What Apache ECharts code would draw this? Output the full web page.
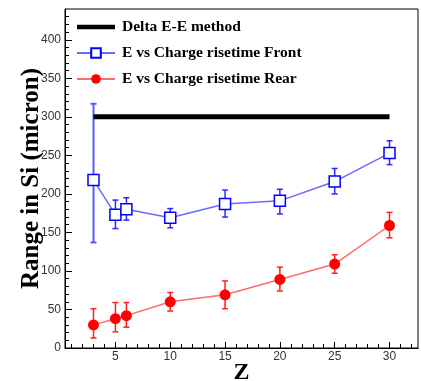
<!DOCTYPE html>
<html>
<head>
<meta charset="utf-8">
<script src="https://cdn.jsdelivr.net/npm/echarts@6/dist/echarts.min.js"></script>
<style>html,body{margin:0;padding:0;background:#fff}#c{width:421px;height:381px}</style>
</head>
<body>
<div id="c"></div>
<script>
// Data
var zValues = [3, 5, 6, 10, 15, 20, 25, 30];
var frontRange = [218, 173, 180, 169, 187, 191, 216, 253];
var frontLow = [137, 155, 166, 156, 170, 174, 200, 238];
var frontHigh = [317, 192, 195, 181, 205, 206, 233, 269];
var rearRange = [30, 38, 42, 60, 69, 89, 109, 159];
var rearLow = [13, 21, 27, 48, 51, 74, 97, 143];
var rearHigh = [51, 59, 59, 72, 87, 105, 121, 176];
var deltaZ = [3, 30];
var deltaRange = [300, 300];
var xMajorTicks = [5, 10, 15, 20, 25, 30];
var xMinorTicks = [1, 2, 3, 4, 6, 7, 8, 9, 11, 12, 13, 14, 16, 17, 18, 19, 21, 22, 23, 24, 26, 27, 28, 29, 31, 32];
var yMajorTicks = [0, 50, 100, 150, 200, 250, 300, 350, 400];
var yMinorTicks = [10, 20, 30, 40, 60, 70, 80, 90, 110, 120, 130, 140, 160, 170, 180, 190, 210, 220, 230, 240, 260, 270, 280, 290, 310, 320, 330, 340, 360, 370, 380, 390, 410, 420, 430];

var X_MIN = 0.4, X_MAX = 32.6, Y_MIN = 0, Y_MAX = 440;

function pairs(xs, ys) { return xs.map(function (x, i) { return [x, ys[i]]; }); }
function errData(xs, lo, hi) { return xs.map(function (x, i) { return [x, lo[i], hi[i]]; }); }

function errRender(color, width) {
  return function (params, api) {
    var x = api.value(0);
    var top = api.coord([x, api.value(2)]);
    var bot = api.coord([x, api.value(1)]);
    var cap = 3;
    var big = (api.value(2) - api.value(1)) > 100;
    var st = { stroke: big ? '#5a5aff' : color, lineWidth: big ? 2 : width };
    return {
      type: 'group',
      children: [
        { type: 'line', shape: { x1: top[0], y1: top[1], x2: bot[0], y2: bot[1] }, style: st },
        { type: 'line', shape: { x1: top[0] - cap, y1: top[1], x2: top[0] + cap, y2: top[1] }, style: st },
        { type: 'line', shape: { x1: bot[0] - cap, y1: bot[1], x2: bot[0] + cap, y2: bot[1] }, style: st }
      ]
    };
  };
}

var chart = echarts.init(document.getElementById('c'), null, { renderer: 'canvas' });
var labelFont = { fontFamily: 'Liberation Sans, Arial, sans-serif', fontSize: 12, color: '#333' };
var serif = 'Liberation Serif, Times New Roman, serif';

chart.setOption({
  animation: false,
  backgroundColor: '#fff',
  grid: { left: 65, right: 3, top: 9, bottom: 33, show: true, borderColor: '#000', borderWidth: 1, backgroundColor: 'transparent', outerBoundsMode: 'none', containLabel: false },
  legend: {
    orient: 'vertical',
    left: 76,
    top: 19,
    padding: 0,
    itemWidth: 38,
    itemHeight: 12,
    itemGap: 10,
    textStyle: { fontFamily: serif, fontWeight: 'bold', fontSize: 15.5, color: '#000', padding: [0, 0, 0, 2] },
    data: [
      { name: 'Delta E-E method', icon: 'path://M0,0 L38,0 L38,4.5 L0,4.5 Z', itemStyle: { color: '#000' } },
      'E vs Charge risetime Front',
      'E vs Charge risetime Rear'
    ]
  },
  xAxis: [{
    type: 'value', min: X_MIN, max: X_MAX,
    name: 'Z', nameLocation: 'middle', nameGap: 13, nameMoveOverlap: false,
    nameTextStyle: { fontFamily: serif, fontWeight: 'bold', fontSize: 24, color: '#000' },
    axisLine: { show: true, lineStyle: { color: '#000', width: 1 } },
    axisTick: { show: true, inside: true, length: 6, lineStyle: { color: '#000' }, customValues: xMajorTicks },
    axisLabel: Object.assign({ margin: 3, customValues: xMajorTicks }, labelFont),
    splitLine: { show: false }
  }, {
    type: 'value', min: X_MIN, max: X_MAX, position: 'bottom',
    axisLine: { show: false },
    axisTick: { show: true, inside: true, length: 4, lineStyle: { color: '#000' }, customValues: xMinorTicks },
    axisLabel: { show: false },
    splitLine: { show: false }
  }],
  yAxis: [{
    type: 'value', min: Y_MIN, max: Y_MAX,
    name: 'Range in Si (micron)', nameLocation: 'middle', nameGap: 21, nameMoveOverlap: false,
    nameTextStyle: { fontFamily: serif, fontWeight: 'bold', fontSize: 25, color: '#000' },
    axisLine: { show: true, lineStyle: { color: '#000', width: 1 } },
    axisTick: { show: true, inside: true, length: 7, lineStyle: { color: '#000' }, customValues: yMajorTicks },
    axisLabel: Object.assign({ margin: 4, customValues: yMajorTicks }, labelFont),
    splitLine: { show: false }
  }, {
    type: 'value', min: Y_MIN, max: Y_MAX, position: 'left',
    axisLine: { show: false },
    axisTick: { show: true, inside: true, length: 4, lineStyle: { color: '#000' }, customValues: yMinorTicks },
    axisLabel: { show: false },
    splitLine: { show: false }
  }],
  series: [{
    name: 'Delta E-E method', type: 'line',
    data: pairs(deltaZ, deltaRange),
    symbol: 'none',
    lineStyle: { color: '#000', width: 5 },
    itemStyle: { color: '#000' },
    z: 3
  }, {
    name: 'front-err', type: 'custom',
    data: errData(zValues, frontLow, frontHigh),
    renderItem: errRender('#2a2aff', 1.5),
    encode: { x: 0, y: [1, 2] },
    z: 2, silent: true
  }, {
    name: 'rear-err', type: 'custom',
    data: errData(zValues, rearLow, rearHigh),
    renderItem: errRender('#ff2020', 1.5),
    encode: { x: 0, y: [1, 2] },
    z: 2, silent: true
  }, {
    name: 'E vs Charge risetime Front', type: 'line',
    data: pairs(zValues, frontRange),
    symbol: 'rect', symbolSize: 11, showAllSymbol: true,
    lineStyle: { color: '#6a6aff', width: 1.5 },
    itemStyle: { color: '#fff', borderColor: '#0000ff', borderWidth: 1.5 },
    z: 4
  }, {
    name: 'E vs Charge risetime Rear', type: 'line',
    data: pairs(zValues, rearRange),
    symbol: 'circle', symbolSize: 11, showAllSymbol: true,
    lineStyle: { color: '#ff6a6a', width: 1.5 },
    itemStyle: { color: '#ff0000', borderColor: '#ff0000', borderWidth: 0 },
    z: 4
  }]
});
</script>
</body>
</html>
